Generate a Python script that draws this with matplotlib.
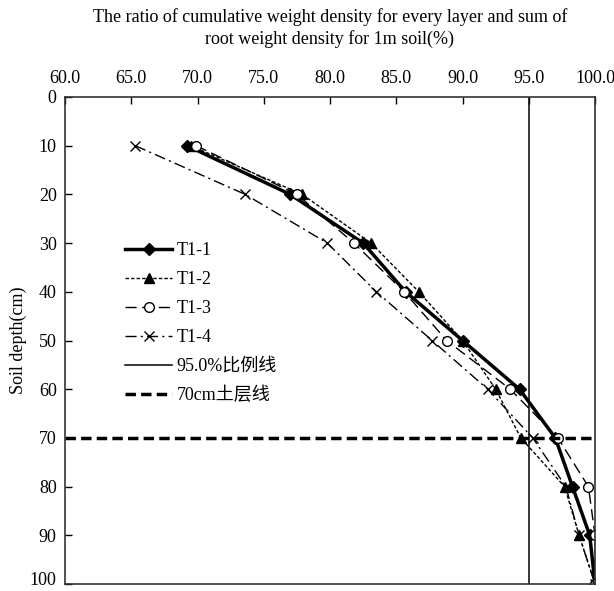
import matplotlib
matplotlib.use("Agg")
from matplotlib import pyplot as plt
from matplotlib.transforms import ScaledTranslation

plt.rcParams['font.family'] = ['Liberation Serif', 'Noto Sans CJK SC']
plt.rcParams['axes.unicode_minus'] = False

depth = [10, 20, 30, 40, 50, 60, 70, 80, 90, 100]
t1_1 = [69.2, 77.0, 82.5, 85.7, 90.0, 94.3, 97.0, 98.3, 99.6, 100.0]
t1_2 = [69.5, 77.9, 83.1, 86.7, 90.0, 92.5, 94.4, 97.7, 98.8, 100.0]
t1_3 = [69.9, 77.5, 81.8, 85.6, 88.8, 93.6, 97.2, 99.5, 100.0, 100.0]
t1_4 = [65.3, 73.6, 79.8, 83.5, 87.7, 91.9, 95.3, 97.8, 98.8, 100.0]
ratio_line = 95.0
layer_line = 70

x_ticks = [60, 65, 70, 75, 80, 85, 90, 95, 100]
y_ticks = [0, 10, 20, 30, 40, 50, 60, 70, 80, 90, 100]

fig = plt.figure(figsize=(6.14, 5.91), dpi=100)
ax = fig.add_axes([0.1059, 0.0118, 0.8632, 0.8241])

ax.plot(t1_1, depth, color='black', lw=2.5, marker='D', ms=6, label='T1-1')
ax.plot(t1_2, depth, color='black', lw=1, ls=(0, (2.5, 1.5)), marker='^', ms=7, label='T1-2')
ax.plot(t1_3, depth, color='black', lw=1, ls=(0, (8, 4)), marker='o', ms=7,
        mfc='white', mec='black', label='T1-3')
ax.plot(t1_4, depth, color='black', lw=1, ls=(0, (8, 3, 1.5, 3)), marker='x', ms=7, label='T1-4')
ax.axvline(ratio_line, color='black', lw=1.1, label='95.0%比例线')
ax.axhline(layer_line, color='black', lw=2.5, ls=(0, (3, 1.5)), label='70cm土层线')

ax.set_xlim(60, 100)
ax.set_ylim(100, 0)
ax.xaxis.tick_top()
ax.set_xticks(x_ticks)
ax.set_xticklabels(['%.1f' % v for v in x_ticks])
ax.set_yticks(y_ticks)
ax.tick_params(direction='in', labelsize=13, length=5, width=1)
ax.tick_params(axis='x', pad=7)
ax.tick_params(axis='y', pad=6)
for s in ax.spines.values():
    s.set_linewidth(1.2)
    s.set_color('#333333')

# nudge the bottom "100" label up so it stays inside the figure
last = ax.get_yticklabels()[-1]
last.set_transform(last.get_transform() + ScaledTranslation(0, 4 / 72, fig.dpi_scale_trans))

ax.set_ylabel('Soil depth(cm)', fontsize=13, labelpad=2)
fig.text(0.537, 0.953, 'The ratio of cumulative weight density for every layer and sum of\n'
         'root weight density for 1m soil(%)', ha='center', va='center', fontsize=13,
         linespacing=1.3)

ax.legend(loc='upper left', bbox_to_anchor=(0.083, 0.735), frameon=False, fontsize=13,
          handlelength=2.6, handletextpad=0.25, labelspacing=0.66, borderpad=0.4)

fig.savefig('out.png', dpi=100)
